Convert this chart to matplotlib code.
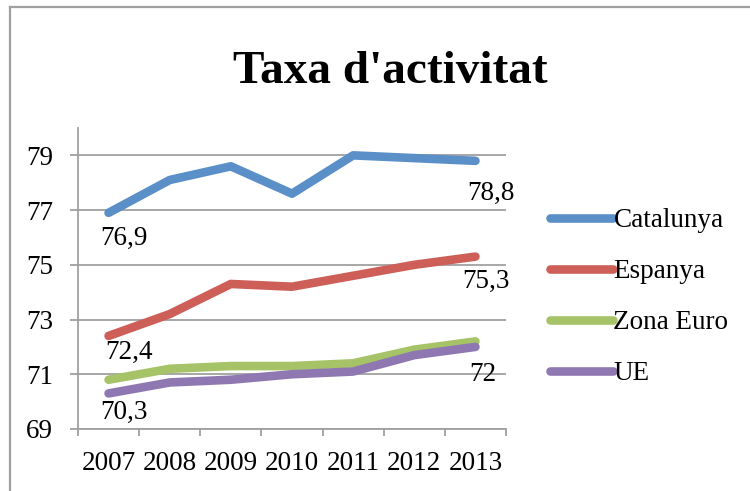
import matplotlib
matplotlib.use("Agg")
import matplotlib.pyplot as plt
from matplotlib.lines import Line2D

plt.rcParams['font.family'] = ['Liberation Serif', 'DejaVu Serif']

years = ['2007', '2008', '2009', '2010', '2011', '2012', '2013']
catalunya = [76.9, 78.1, 78.6, 77.6, 79.0, 78.9, 78.8]
espanya = [72.4, 73.2, 74.3, 74.2, 74.6, 75.0, 75.3]
zona_euro = [70.8, 71.2, 71.3, 71.3, 71.4, 71.9, 72.2]
ue = [70.3, 70.7, 70.8, 71.0, 71.1, 71.7, 72.0]

series = [
    ('Catalunya', catalunya, '#5B8FC8'),
    ('Espanya', espanya, '#CD5F58'),
    ('Zona Euro', zona_euro, '#A6C368'),
    ('UE', ue, '#8F77B1'),
]

# labelled points: (series name, index, dx px, dy px to baseline)
point_labels = [
    ('Catalunya', 0, -8, -32),
    ('Catalunya', 6, -8, -39),
    ('Espanya', 0, -3, -23),
    ('Espanya', 6, -13, -31),
    ('UE', 0, -8, -25),
    ('UE', 6, -6, -34),
]

grid_col = '#A0A0A0'
fs = 19.5

fig = plt.figure(figsize=(7.5, 4.91), dpi=100)
ax = fig.add_axes([0.104, 0.1263, 0.5707, 0.613])

x = list(range(len(years)))
data = {}
for name, vals, col in series:
    data[name] = vals
    ax.plot(x, vals, color=col, lw=6.2, label=name,
            solid_capstyle='round', solid_joinstyle='round', zorder=3)

for name, i, dx, dy in point_labels:
    v = data[name][i]
    txt = ('%g' % v).replace('.', ',')
    ax.annotate(txt, (x[i], v), xytext=(dx, dy), textcoords='offset pixels',
                ha='left', va='baseline', fontsize=fs, color='black', zorder=4)

ax.set_xlim(-0.5, len(years) - 0.5)
ax.set_ylim(69, 80)
ax.set_yticks([69, 71, 73, 75, 77, 79])
ax.set_xticks(x)
ax.set_xticklabels(years)
ax.set_xticks([i - 0.5 for i in range(len(years) + 1)], minor=True)

ax.yaxis.grid(True, color=grid_col, lw=1.3)
ax.set_axisbelow(True)
for s in ['top', 'right']:
    ax.spines[s].set_visible(False)
for s in ['left', 'bottom']:
    ax.spines[s].set_color(grid_col)
    ax.spines[s].set_linewidth(1.3)

ax.tick_params(axis='y', length=6, width=1.3, color=grid_col, pad=12, labelsize=fs)
ax.tick_params(axis='x', which='major', length=0, pad=16, labelsize=fs)
ax.tick_params(axis='x', which='minor', length=5, width=1.3, color=grid_col)

fig.text(0.52, 0.853, "Taxa d'activitat", ha='center', va='center',
         fontsize=34, fontweight='bold')

leg = ax.legend(loc='center left', bbox_to_anchor=(0.733, 0.395),
                bbox_transform=fig.transFigure, frameon=False, fontsize=fs,
                handlelength=2.35, handletextpad=0.0, labelspacing=0.96,
                borderpad=0, borderaxespad=0)
for h in leg.get_lines():
    h.set_solid_capstyle('round')

# outer chart border (only left and top visible)
fig.add_artist(Line2D([0.0127, 0.0127], [0.0, 0.9857], color=grid_col, lw=1.6,
                      transform=fig.transFigure))
fig.add_artist(Line2D([0.0127, 1.0], [0.9857, 0.9857], color=grid_col, lw=1.6,
                      transform=fig.transFigure))

fig.savefig('out.png', dpi=100)
